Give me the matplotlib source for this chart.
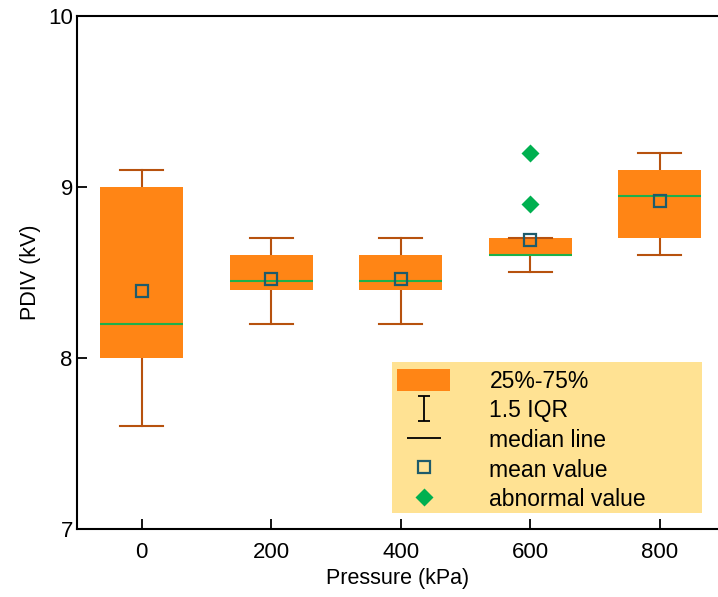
import numpy as np
import matplotlib
matplotlib.use("Agg")
import matplotlib.pyplot as plt
from matplotlib.patches import Patch, Rectangle
from matplotlib.lines import Line2D
from matplotlib.path import Path

plt.rcParams['font.family'] = ['Liberation Sans', 'DejaVu Sans']

# data
pressure = [0, 200, 400, 600, 800]
q1 = [8.0, 8.4, 8.4, 8.6, 8.7]
q3 = [9.0, 8.6, 8.6, 8.7, 9.1]
median = [8.2, 8.45, 8.45, 8.6, 8.95]
mean = [8.39, 8.46, 8.46, 8.69, 8.92]
whis_lo = [7.6, 8.2, 8.2, 8.5, 8.6]
whis_hi = [9.1, 8.7, 8.7, 8.7, 9.2]
outliers = [[], [], [], [8.9, 9.2], []]

BOX_C = '#FF8515'
WHISK_C = '#B7520E'
MED_C = '#1DB04B'
MEAN_C = '#1E5B6B'
OUT_C = '#00B050'

fig = plt.figure(figsize=(7.18, 5.97), dpi=100)
ax = fig.add_axes([77/718, 1-529/597, 641/718, 513/597])

stats = []
for i in range(len(pressure)):
    stats.append(dict(q1=q1[i], q3=q3[i], med=median[i], mean=mean[i],
                      whislo=whis_lo[i], whishi=whis_hi[i], fliers=outliers[i]))

ax.bxp(stats, positions=pressure, widths=128, patch_artist=True,
       showmeans=True, showfliers=True, capwidths=66,
       boxprops=dict(facecolor=BOX_C, edgecolor='none', zorder=2),
       whiskerprops=dict(color=WHISK_C, lw=1.5, zorder=1),
       capprops=dict(color=WHISK_C, lw=1.5, zorder=3),
       medianprops=dict(color=MED_C, lw=1.5, zorder=4),
       meanprops=dict(marker='s', markersize=9, markerfacecolor='none',
                      markeredgecolor=MEAN_C, markeredgewidth=1.6, zorder=5),
       flierprops=dict(marker='D', markersize=9, markerfacecolor=OUT_C,
                       markeredgecolor='none', zorder=5))

ax.set_xlim(-100, 890)
ax.set_ylim(7, 10)
ax.set_xticks(pressure)
ax.set_xticklabels([str(p) for p in pressure])
ax.set_yticks([7, 8, 9, 10])
ax.tick_params(direction='in', length=7, width=1.3, labelsize=16)
ax.tick_params(axis='x', pad=9)
ax.tick_params(axis='y', pad=3)
for s in ['left', 'bottom', 'top']:
    ax.spines[s].set_linewidth(1.5)
ax.spines['right'].set_visible(False)

ax.set_xlabel('Pressure (kPa)', fontsize=15.5, labelpad=4)
ax.set_ylabel('PDIV (kV)', fontsize=15.5, labelpad=5)

# legend background (larger than the legend contents, as in the reference)
ax.add_patch(Rectangle((315/641, 16/513), 310/641, 151/513, transform=ax.transAxes,
                       facecolor='#FFE293', edgecolor='none', zorder=6))

ibeam = Path([(-0.5, 1), (0.5, 1), (0, 1), (0, -1), (-0.5, -1), (0.5, -1)],
             [Path.MOVETO, Path.LINETO, Path.MOVETO, Path.LINETO, Path.MOVETO, Path.LINETO])
handles = [
    Patch(facecolor=BOX_C, edgecolor='none'),
    Line2D([], [], ls='none', marker=ibeam, markersize=18, markerfacecolor='none',
           markeredgecolor='black', markeredgewidth=1.3),
    Line2D([], [], ls='none', marker='_', markersize=25, markeredgecolor='black',
           markeredgewidth=1.3),
    Line2D([], [], ls='none', marker='s', markersize=9, markerfacecolor='none',
           markeredgecolor=MEAN_C, markeredgewidth=1.6),
    Line2D([], [], ls='none', marker='D', markersize=9, markerfacecolor=OUT_C,
           markeredgecolor='none'),
]
labels = ['25%-75%', '1.5 IQR', 'median line', 'mean value', 'abnormal value']
leg = ax.legend(handles, labels, loc='upper left', bbox_to_anchor=(315/641, 165/513),
                borderaxespad=0, fontsize=16.5, frameon=False,
                handlelength=2.35, handleheight=1.13, handletextpad=1.7,
                labelspacing=0.25, borderpad=0.2)
leg.set_zorder(7)

fig.savefig('out.png', dpi=100)
